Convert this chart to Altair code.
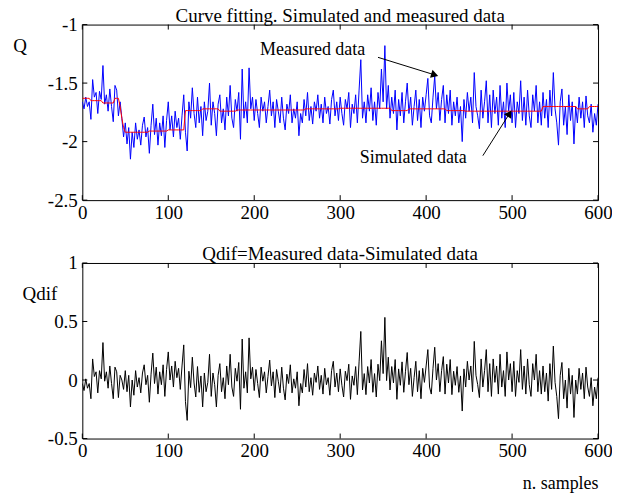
import altair as alt
import pandas as pd

# ---------------- data ----------------
# measured Q, one reading every 2 samples (0, 2, ..., 600)
measured = [
    # 0 - 48
    -1.66, -1.72, -1.62, -1.70, -1.66, -1.81, -1.47, -1.62, -1.58, -1.76,
    -1.57, -1.64, -1.35, -1.68, -1.60, -1.74, -1.55, -1.70, -1.83, -1.52,
    -1.56, -1.78, -1.66, -1.80, -1.96,
    # 50 - 98
    -1.84, -2.02, -1.88, -2.15, -1.92, -2.05, -1.84, -1.98, -1.90, -2.03,
    -1.86, -1.79, -1.96, -1.88, -2.10, -1.86, -1.68, -1.94, -1.80, -2.03,
    -1.84, -1.95, -1.78, -2.05, -1.82,
    # 100 - 148
    -1.66, -1.90, -1.78, -1.96, -1.74, -1.88, -1.80, -1.98, -1.78, -1.60,
    -1.92, -2.08, -1.66, -1.80, -1.54, -1.76, -1.88, -1.62, -1.84, -1.70,
    -1.95, -1.66, -1.82, -1.74, -1.50,
    # 150 - 198
    -1.86, -1.66, -1.76, -1.95, -1.68, -1.60, -1.84, -1.72, -1.90, -1.62,
    -1.78, -1.52, -1.80, -1.88, -1.64, -1.74, -1.58, -1.98, -1.38, -1.80,
    -1.66, -1.84, -1.37, -1.72, -1.62,
    # 200 - 248
    -1.82, -1.64, -1.76, -1.88, -1.62, -1.74, -1.66, -1.84, -1.70, -1.56,
    -1.78, -1.66, -1.88, -1.64, -1.74, -1.84, -1.62, -1.80, -1.90, -1.68,
    -1.76, -1.60, -1.84, -1.72, -1.80,
    # 250 - 298
    -1.66, -1.95, -1.76, -1.84, -1.64, -1.78, -1.58, -1.82, -1.70, -1.85,
    -1.66, -1.74, -1.60, -1.80, -1.68, -1.84, -1.62, -1.76, -1.70, -1.85,
    -1.64, -1.56, -1.78, -1.66, -1.82,
    # 300 - 348
    -1.62, -1.76, -1.86, -1.64, -1.72, -1.58, -1.88, -1.68, -1.76, -1.60,
    -1.84, -1.56, -1.30, -1.80, -1.66, -1.84, -1.60, -1.74, -1.54, -1.82,
    -1.66, -1.86, -1.58, -1.72, -1.38,
    # 350 - 398
    -1.66, -1.18, -1.72, -1.52, -1.80, -1.62, -1.76, -1.56, -1.90, -1.64,
    -1.78, -1.58, -1.84, -1.66, -1.50, -1.76, -1.62, -1.86, -1.70, -1.56,
    -1.82, -1.64, -1.88, -1.62, -1.74,
    # 400 - 448
    -1.60, -1.46, -1.78, -1.84, -1.62, -1.44, -1.72, -1.58, -1.82, -1.64,
    -1.52, -1.84, -1.60, -1.76, -1.56, -1.86, -1.66, -1.78, -1.62, -1.84,
    -1.70, -2.00, -1.64, -1.80, -1.58,
    # 450 - 498
    -1.74, -1.62, -1.84, -1.41, -1.70, -1.78, -1.89, -1.56, -1.80, -1.66,
    -1.48, -1.84, -1.60, -1.88, -1.56, -1.76, -1.62, -1.86, -1.52, -1.80,
    -1.66, -1.88, -1.50, -1.74, -1.60,
    # 500 - 548
    -1.84, -1.58, -1.88, -1.66, -1.76, -1.48, -1.82, -1.62, -1.86, -1.56,
    -1.78, -1.88, -1.60, -1.74, -1.52, -1.84, -1.66, -1.86, -1.58, -1.80,
    -1.64, -1.88, -1.56, -1.78, -1.41,
    # 550 - 598
    -1.72, -1.84, -2.03, -1.66, -1.55, -1.86, -1.70, -1.94, -1.60, -1.82,
    -1.66, -2.02, -1.70, -1.84, -1.62, -1.80, -1.66, -1.88, -1.61, -1.78,
    -1.84, -1.68, -1.92, -1.76, -1.86,
    # 600
    -1.68,
]
sample_step = 2

# simulated Q: step levels and how many readings (every 2 samples) each lasts
sim_levels = [-1.63, -1.65, -1.67, -1.63, -1.70, -1.80, -1.88, -1.92, -1.91, -1.90,
              -1.735, -1.72, -1.74, -1.73, -1.72, -1.715, -1.735, -1.72, -1.735,
              -1.74, -1.70, -1.72, -1.70]
sim_runs = [5, 7, 7, 3, 1, 1, 1, 14, 11, 10,
            10, 10, 10, 40, 20, 30, 10, 22, 11,
            45, 20, 7, 6]

x_ticks = [0, 100, 200, 300, 400, 500, 600]
q_ticks = [-2.5, -2, -1.5, -1]
qdif_ticks = [-0.5, 0, 0.5, 1]

top_title = "Curve fitting. Simulated and measured data"
bottom_title = "Qdif=Measured data-Simulated data"

# annotation texts and arrows (data coordinates of the top panel)
ann_labels = ["Measured data", "Simulated data"]
ann_n = [268, 385]
ann_q = [-1.22, -2.14]
arrow_n = [344, 466]
arrow_q = [-1.28, -2.12]
arrow_n2 = [410, 497]
arrow_q2 = [-1.43, -1.76]
arrow_angle = [17, 302]

# ---------------- build ----------------
simulated = []
for lev, cnt in zip(sim_levels, sim_runs):
    simulated += [lev] * cnt
npts = min(len(measured), len(simulated))
samples = [i * sample_step for i in range(npts)]
df = pd.DataFrame({"n": samples, "measured": measured[:npts],
                   "simulated": simulated[:npts]})
df["qdif"] = df["measured"] - df["simulated"]

ann = pd.DataFrame({"n": ann_n, "q": ann_q, "label": ann_labels})
arrows = pd.DataFrame({"n": arrow_n, "q": arrow_q, "n2": arrow_n2,
                       "q2": arrow_q2, "ang": arrow_angle})
xt = pd.DataFrame({"t": x_ticks})

W, H = 517, 176
FONT = "Liberation Serif"
FS = 19

xscale = alt.Scale(domain=[0, 600], nice=False, zero=False)
qscale = alt.Scale(domain=[-2.5, -1], nice=False, zero=False)
dscale = alt.Scale(domain=[-0.5, 1], nice=False, zero=False)


def x_axis(title=None, **kw):
    return alt.Axis(values=x_ticks, tickSize=0, domain=False, grid=False,
                    labelFont=FONT, labelFontSize=FS, labelColor="black",
                    labelPadding=3, labelFlush=False, labelOverlap=False,
                    title=title, **kw)


def y_axis(vals, title, tx, ty):
    return alt.Axis(values=vals, tickSize=0, domain=False, grid=False,
                    labelFont=FONT, labelFontSize=FS, labelColor="black",
                    labelPadding=5, labelExpr="toString(datum.value)",
                    labelOverlap=False, labelFlush=False,
                    title=title, titleAngle=0, titleX=tx, titleY=ty,
                    titleAlign="center", titleBaseline="middle",
                    titleFont=FONT, titleFontSize=FS, titleFontWeight="normal",
                    titleColor="black")


XA_TOP = x_axis(None)
XA_BOT = x_axis("n. samples", titleX=W, titleY=45, titleAlign="right",
                titleBaseline="middle", titleFont=FONT, titleFontSize=FS - 1,
                titleFontWeight="normal", titleColor="black")
YA_TOP = y_axis(q_ticks, "Q", -63, 21)
YA_BOT = y_axis(qdif_ticks, "Qdif", -43, 31)


def inner_ticks(yvals, yscale, xa, ya):
    yt = pd.DataFrame({"t": yvals})
    xb = alt.Chart(xt).mark_rule(color="black", strokeWidth=1).encode(
        x=alt.X("t:Q", scale=xscale, axis=xa), y=alt.value(H), y2=alt.value(H - 5))
    xtop = alt.Chart(xt).mark_rule(color="black", strokeWidth=1).encode(
        x=alt.X("t:Q", scale=xscale, axis=xa), y=alt.value(0), y2=alt.value(5))
    yl = alt.Chart(yt).mark_rule(color="black", strokeWidth=1).encode(
        y=alt.Y("t:Q", scale=yscale, axis=ya), x=alt.value(0), x2=alt.value(5))
    yr = alt.Chart(yt).mark_rule(color="black", strokeWidth=1).encode(
        y=alt.Y("t:Q", scale=yscale, axis=ya), x=alt.value(W), x2=alt.value(W - 5))
    return [xb, xtop, yl, yr]


base_top = alt.Chart(df)
measured_line = base_top.mark_line(color="#0000ff", strokeWidth=1, clip=True).encode(
    x=alt.X("n:Q", scale=xscale, axis=XA_TOP),
    y=alt.Y("measured:Q", scale=qscale, axis=YA_TOP),
)
simulated_line = base_top.mark_line(color="#ff0000", strokeWidth=1, clip=True).encode(
    x=alt.X("n:Q", scale=xscale, axis=XA_TOP),
    y=alt.Y("simulated:Q", scale=qscale, axis=YA_TOP),
)
texts = alt.Chart(ann).mark_text(font=FONT, fontSize=18, color="black",
                                 align="center", baseline="middle").encode(
    x=alt.X("n:Q", scale=xscale, axis=XA_TOP),
    y=alt.Y("q:Q", scale=qscale, axis=YA_TOP), text="label:N")
arrow_lines = alt.Chart(arrows).mark_rule(color="black", strokeWidth=1).encode(
    x=alt.X("n:Q", scale=xscale, axis=XA_TOP),
    y=alt.Y("q:Q", scale=qscale, axis=YA_TOP),
    x2="n2:Q", y2="q2:Q")
arrow_heads = alt.Chart(arrows).mark_point(shape="triangle-right", filled=True,
                                           color="black", size=70, opacity=1).encode(
    x=alt.X("n2:Q", scale=xscale, axis=XA_TOP),
    y=alt.Y("q2:Q", scale=qscale, axis=YA_TOP),
    angle=alt.Angle("ang:Q", scale=None))

TOFF = -10

top = alt.layer(measured_line, simulated_line,
                *inner_ticks(q_ticks, qscale, XA_TOP, YA_TOP),
                texts, arrow_lines, arrow_heads).properties(
    width=W, height=H,
    title=alt.TitleParams(top_title, font=FONT, fontSize=FS, fontWeight="normal",
                          color="black", offset=TOFF, anchor="middle"))

qdif_line = alt.Chart(df).mark_line(color="black", strokeWidth=1, clip=True).encode(
    x=alt.X("n:Q", scale=xscale, axis=XA_BOT),
    y=alt.Y("qdif:Q", scale=dscale, axis=YA_BOT),
)
bottom = alt.layer(qdif_line, *inner_ticks(qdif_ticks, dscale, XA_BOT, YA_BOT)).properties(
    width=W, height=H,
    title=alt.TitleParams(bottom_title, font=FONT, fontSize=FS, fontWeight="normal",
                          color="black", offset=TOFF, anchor="middle"))

chart = alt.vconcat(top, bottom, spacing=21).properties(
    padding={"left": 3.5, "top": -3, "right": -1, "bottom": 5},
    background="white",
).configure_view(stroke="black", strokeWidth=1).configure_concat(spacing=21)

chart.save("out.html", embed_options={"renderer": "svg", "actions": False})
